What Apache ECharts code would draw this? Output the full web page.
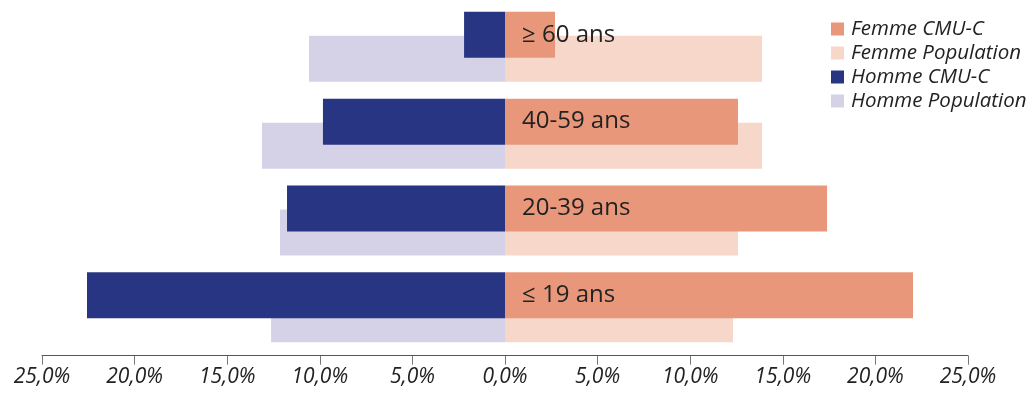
<!DOCTYPE html>
<html>
<head>
<meta charset="utf-8">
<script src="https://cdn.jsdelivr.net/npm/echarts@6/dist/echarts.min.js"></script>
<style>
  html, body { margin: 0; padding: 0; background: #ffffff; }
  #chart { width: 1030px; height: 394px; }
</style>
</head>
<body>
<div id="chart"></div>
<script>
// Age groups, bottom to top
const ageGroups = ['≤ 19 ans', '20-39 ans', '40-59 ans', '≥ 60 ans'];

// Shares in % (men drawn to the left as negative values)
const hommeCMU = [-22.57, -11.77, -9.83, -2.21];
const hommePopulation = [-12.63, -12.15, -13.12, -10.58];
const femmeCMU = [22.03, 17.39, 12.58, 2.7];
const femmePopulation = [12.31, 12.58, 13.88, 13.88];

const xTicks = { min: -25, max: 25, step: 5 };

const legendOrder = ['Femme CMU-C', 'Femme Population', 'Homme CMU-C', 'Homme Population'];

const FONT = 'Open Sans';
const colors = {
  femmeCMU: '#E8977A',
  femmePop: '#F7D7CA',
  hommeCMU: '#273583',
  hommePop: '#D5D1E7'
};

const chart = echarts.init(document.getElementById('chart'), null, { renderer: 'canvas' });

const barW = 46;

chart.setOption({
  animation: false,
  backgroundColor: '#ffffff',
  grid: { left: 42, right: 62, top: 3.4, height: 347.3, containLabel: false },
  legend: {
    orient: 'vertical',
    left: 831,
    top: 19,
    padding: 0,
    itemWidth: 13,
    itemHeight: 13,
    itemGap: 4,
    icon: 'rect',
    data: legendOrder,
    textStyle: { fontFamily: FONT, fontStyle: 'italic', fontSize: 20.5, lineHeight: 20, color: '#222', padding: [0, 0, 0, 2] }
  },
  xAxis: {
    type: 'value',
    min: xTicks.min,
    max: xTicks.max,
    interval: xTicks.step,
    offset: 5,
    axisLine: { show: true, lineStyle: { color: '#555', width: 1 } },
    axisTick: { show: true, length: 9, lineStyle: { color: '#777', width: 1 } },
    splitLine: { show: false },
    axisLabel: {
      margin: 11,
      fontFamily: FONT,
      fontStyle: 'italic',
      fontSize: 21,
      color: '#222',
      formatter: v => Math.abs(v).toFixed(1).replace('.', ',') + '%'
    }
  },
  yAxis: {
    type: 'category',
    data: ageGroups,
    axisLine: { show: false },
    axisTick: { show: false },
    axisLabel: { show: false },
    splitLine: { show: false }
  },
  series: [
    {
      name: 'Homme CMU-C', type: 'bar', stack: 'cmu', data: hommeCMU,
      barWidth: barW, barGap: '-47.8%', z: 4,
      itemStyle: { color: colors.hommeCMU }
    },
    {
      name: 'Femme CMU-C', type: 'bar', stack: 'cmu', data: femmeCMU,
      barWidth: barW, barGap: '-47.8%', z: 4,
      itemStyle: { color: colors.femmeCMU },
      label: {
        show: true,
        position: 'insideLeft',
        distance: 17,
        fontFamily: FONT,
        fontSize: 24,
        color: '#222',
        formatter: p => ageGroups[p.dataIndex]
      }
    },
    {
      name: 'Homme Population', type: 'bar', stack: 'pop', data: hommePopulation,
      barWidth: barW, barGap: '-47.8%', z: 2,
      itemStyle: { color: colors.hommePop }
    },
    {
      name: 'Femme Population', type: 'bar', stack: 'pop', data: femmePopulation,
      barWidth: barW, barGap: '-47.8%', z: 2,
      itemStyle: { color: colors.femmePop }
    }
  ]
});
</script>
</body>
</html>
